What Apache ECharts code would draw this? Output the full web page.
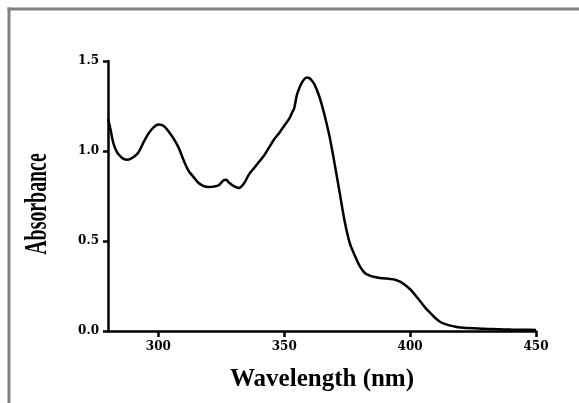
<!DOCTYPE html>
<html>
<head>
<meta charset="utf-8">
<script src="https://cdn.jsdelivr.net/npm/echarts@6/dist/echarts.min.js"></script>
<style>
html,body{margin:0;padding:0;background:#fff;overflow:hidden;}
#chart{width:579px;height:403px;}
</style>
</head>
<body>
<div id="chart"></div>
<script>
var wavelength = [280,281,282,283,284,286,288,290,292,294,296,298,300,302,304,306,308,310,312,314,316,318,320,322,324,326,327,328,330,332,334,336,338,340,342,344,346,348,350,352,353,354,355,356,357,358,359,360,361,362,364,366,368,370,372,374,376,378,380,382,384,386,388,390,392,394,396,398,400,402,404,406,408,410,412,414,416,418,420,425,430,435,440,445,450];
var absorbance = [1.18,1.12,1.05,1.01,0.985,0.958,0.952,0.965,0.99,1.045,1.095,1.13,1.147,1.14,1.11,1.07,1.02,0.95,0.89,0.855,0.822,0.805,0.8,0.802,0.81,0.838,0.84,0.825,0.805,0.795,0.82,0.87,0.905,0.94,0.975,1.02,1.065,1.1,1.14,1.18,1.21,1.24,1.31,1.35,1.38,1.4,1.409,1.405,1.39,1.37,1.3,1.2,1.08,0.93,0.77,0.61,0.49,0.42,0.36,0.322,0.308,0.3,0.295,0.292,0.289,0.285,0.274,0.255,0.232,0.2,0.165,0.13,0.1,0.072,0.05,0.038,0.03,0.024,0.02,0.015,0.012,0.01,0.008,0.007,0.006];
var xTicks = [300,350,400,450];
var yTicks = [0.0,0.5,1.0,1.5];
var xTitle = 'Wavelength (nm)';
var yTitle = 'Absorbance';

var points = wavelength.map(function(w,i){return [w, absorbance[i]];});
var chart = echarts.init(document.getElementById('chart'), null, {renderer:'canvas'});
var tickFont = {fontFamily:'DejaVu Serif', fontWeight:'bold', fontSize:12, color:'#000'};
chart.setOption({
  animation:false,
  backgroundColor:'#fff',
  grid:{left:108, top:61, right:43, bottom:72},
  xAxis:{
    type:'value', min:280, max:450,
    axisLine:{show:true, lineStyle:{color:'#000', width:2.5}},
    axisTick:{show:true, inside:false, length:6, lineStyle:{color:'#000', width:2.5}, customValues:xTicks},
    axisLabel:Object.assign({margin:10, customValues:xTicks, formatter:function(v){return String(v);}}, tickFont),
    splitLine:{show:false},
    name:xTitle, nameLocation:'middle', nameGap:36,
    nameTextStyle:{fontFamily:'Liberation Serif', fontWeight:'bold', fontSize:25, color:'#000'}
  },
  yAxis:{
    type:'value', min:0, max:1.5, interval:0.5,
    axisLine:{show:true, lineStyle:{color:'#000', width:2.5}},
    axisTick:{show:true, inside:false, length:5, lineStyle:{color:'#000', width:2.5}},
    axisLabel:Object.assign({margin:9, formatter:function(v){return v.toFixed(1);}}, tickFont),
    splitLine:{show:false}
  },
  graphic:[
    {type:'line', shape:{x1:7.5, y1:9, x2:579, y2:9}, style:{stroke:'#808080', lineWidth:3}, silent:true, z:100},
    {type:'line', shape:{x1:9, y1:7.5, x2:9, y2:403}, style:{stroke:'#808080', lineWidth:3}, silent:true, z:100},
    {type:'text', x:38, y:204, rotation:Math.PI/2, scaleX:0.62, scaleY:1.0,
     style:{text:yTitle, fontFamily:'Liberation Serif', fontWeight:'bold', fontSize:32, fill:'#000', align:'center', verticalAlign:'middle'}}
  ],
  series:[{
    type:'line', data:points, smooth:0.3, showSymbol:false, symbol:'none',
    lineStyle:{color:'#000', width:2.5}
  }]
});
</script>
</body>
</html>
